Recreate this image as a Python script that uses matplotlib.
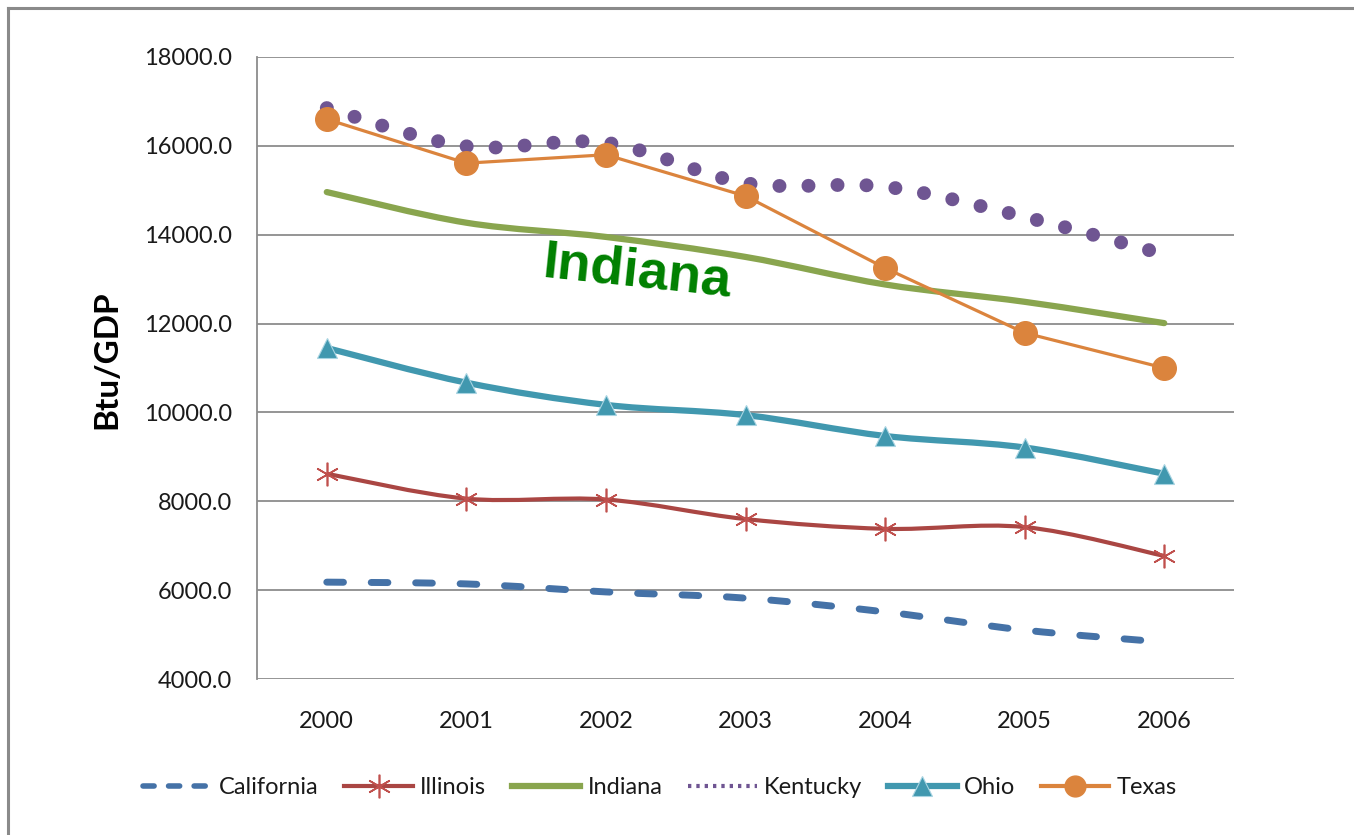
import numpy as np
import matplotlib
matplotlib.use("Agg")
import matplotlib.pyplot as plt
from matplotlib.path import Path
from matplotlib.patches import PathPatch
from matplotlib.lines import Line2D

years = ["2000", "2001", "2002", "2003", "2004", "2005", "2006"]
california = [6180, 6140, 5960, 5820, 5510, 5100, 4830]
illinois = [8620, 8060, 8040, 7600, 7380, 7420, 6770]
indiana = [14960, 14270, 13950, 13500, 12880, 12490, 12010]
kentucky = [16850, 15990, 16070, 15160, 15080, 14400, 13560]
ohio = [11450, 10670, 10170, 9940, 9470, 9210, 8620]
texas = [16600, 15610, 15800, 14870, 13250, 11790, 11000]

plt.rcParams['font.family'] = ['Lato', 'DejaVu Sans']

fig = plt.figure(figsize=(13.54, 8.35), dpi=100)
ax = fig.add_axes([257/1354, 1-679/835, (1234-257)/1354, (679-57)/835])


def smooth_path(xs, ys, t=1/6):
    # Excel-style smoothed line as cubic bezier segments
    xs = np.asarray(xs, float)
    ys = np.asarray(ys, float)
    n = len(xs)
    verts = [(xs[0], ys[0])]
    codes = [Path.MOVETO]
    for i in range(n - 1):
        p0 = (xs[max(i-1, 0)], ys[max(i-1, 0)])
        p1 = (xs[i], ys[i])
        p2 = (xs[i+1], ys[i+1])
        p3 = (xs[min(i+2, n-1)], ys[min(i+2, n-1)])
        c1 = (p1[0] + (p2[0]-p0[0])*t, p1[1] + (p2[1]-p0[1])*t)
        c2 = (p2[0] - (p3[0]-p1[0])*t, p2[1] - (p3[1]-p1[1])*t)
        verts += [c1, c2, p2]
        codes += [Path.CURVE4]*3
    return Path(verts, codes)


x = np.arange(len(years))

c_cal = '#4572A7'
c_ill = '#AA4643'
c_ind = '#89A54E'
c_ken = '#6F5592'
c_ohi = '#4198AF'
c_tex = '#DB843D'

ax.add_patch(PathPatch(smooth_path(x, california), fill=False, edgecolor=c_cal,
                       lw=5, linestyle=(0, (2.4, 4.0)), capstyle='round', zorder=3))
ax.add_patch(PathPatch(smooth_path(x, illinois), fill=False, edgecolor=c_ill,
                       lw=3, zorder=3))
ax.plot(x, illinois, ls='none', marker=(6, 2, 0), ms=17, mec='#C0504D', mew=1.2, zorder=4)
ax.add_patch(PathPatch(smooth_path(x, indiana), fill=False, edgecolor=c_ind,
                       lw=4.5, capstyle='round', zorder=3))
ax.add_patch(PathPatch(smooth_path(x, kentucky), fill=False, edgecolor=c_ken,
                       lw=10, linestyle=(0, (0.01, 2.08)), capstyle='round', zorder=3))
ax.add_patch(PathPatch(smooth_path(x, ohio), fill=False, edgecolor=c_ohi,
                       lw=4.5, zorder=3))
ax.plot(x, ohio, ls='none', marker='^', ms=15, color=c_ohi, mec='#A8D4E2', mew=0.8, zorder=4)
ax.plot(x, texas, color=c_tex, lw=2.3, marker='o', ms=17, zorder=5)

ax.set_xlim(-0.5, 6.5)
ax.set_ylim(4000, 18000)
ax.set_yticks(np.arange(4000, 18001, 2000))
ax.set_yticklabels([f"{v:.1f}" for v in np.arange(4000, 18001, 2000)])
ax.set_xticks(x)
ax.set_xticklabels(years)
ax.tick_params(axis='both', length=0, labelsize=17, labelcolor='#1a1a1a')
ax.tick_params(axis='y', pad=18)
ax.tick_params(axis='x', pad=23)
ax.grid(axis='y', color='#8c8c8c', lw=1.3)
ax.set_axisbelow(True)
for s in ['top', 'right', 'bottom']:
    ax.spines[s].set_visible(False)
ax.spines['left'].set_color('#8c8c8c')
ax.spines['left'].set_linewidth(1.3)

fig.text(107/1354, 1-360/835, "Btu/GDP", rotation=90, ha='center', va='center',
         fontsize=24, fontweight='bold', color='black')

ax.text(2.22, 13150, "Indiana", rotation=-6, ha='center', va='center',
        fontsize=39, fontweight='bold', color='#008000',
        family=['Liberation Sans', 'DejaVu Sans'], zorder=6)

handles = [
    Line2D([], [], color=c_cal, lw=4, linestyle=(0, (2.0, 2.6)), solid_capstyle='round', dash_capstyle='round'),
    Line2D([], [], color=c_ill, lw=3, marker=(6, 2, 0), ms=17, mec='#C0504D', mew=1.2),
    Line2D([], [], color=c_ind, lw=4.5),
    Line2D([], [], color=c_ken, lw=3, linestyle=(0, (0.8, 1.2))),
    Line2D([], [], color=c_ohi, lw=4.5, marker='^', ms=15, mec='#A8D4E2', mew=0.8),
    Line2D([], [], color=c_tex, lw=3, marker='o', ms=15),
]
labels = ["California", "Illinois", "Indiana", "Kentucky", "Ohio", "Texas"]
fig.legend(handles, labels, loc='center', bbox_to_anchor=(660/1354, 1-788/835),
           ncol=6, frameon=False, fontsize=17, handlelength=2.9, handletextpad=0.3,
           columnspacing=1.1, labelcolor='#1a1a1a')

# outer frame: only top and left edges are visible in the original
fig.add_artist(Line2D([8/1354, 1.0], [1-8/835, 1-8/835], transform=fig.transFigure,
                      color='#8a8a8a', lw=2.2))
fig.add_artist(Line2D([8/1354, 8/1354], [0.0, 1-8/835], transform=fig.transFigure,
                      color='#8a8a8a', lw=2.2))

fig.savefig("out.png", dpi=100)
